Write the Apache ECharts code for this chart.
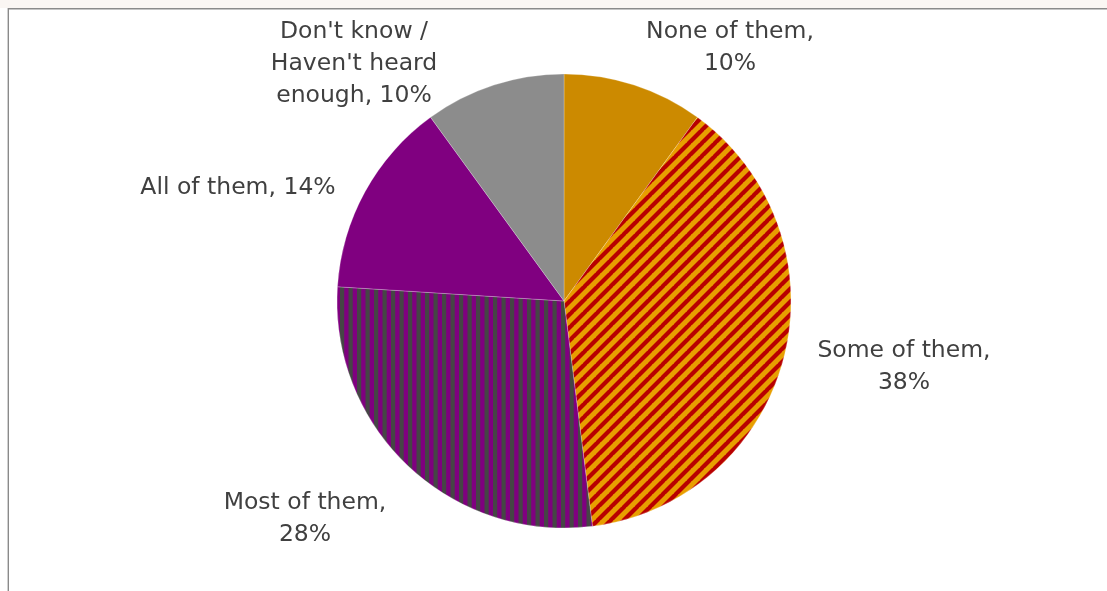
<!DOCTYPE html>
<html>
<head>
<meta charset="utf-8">
<style>
  html, body { margin: 0; padding: 0; background: #ffffff; }
  #chart { width: 1107px; height: 591px; }
</style>
<script src="https://cdn.jsdelivr.net/npm/echarts@6/dist/echarts.min.js"></script>
</head>
<body>
<div id="chart"></div>
<script>
// Survey answers, in clockwise order from twelve o'clock
const categories = ['None of them', 'Some of them', 'Most of them', 'All of them', "Don't know / Haven't heard enough"];
const shares = [10, 38, 28, 14, 10];
// How each label text is broken into lines
const labelLines = [
  ['None of them,', '{v}%'],
  ['Some of them,', '{v}%'],
  ['Most of them,', '{v}%'],
  ['All of them, {v}%'],
  ["Don't know /", "Haven't heard", 'enough, {v}%']
];
// Where each label block is centred (px)
const labelSpots = [[730, 48], [904, 367], [305, 519], [238, 188], [354, 64]];

// Diagonal red-on-gold hatch
function diagonalHatch() {
  const p = 13;
  const c = document.createElement('canvas');
  c.width = p; c.height = p;
  const g = c.getContext('2d');
  g.fillStyle = '#E89E00';
  g.fillRect(0, 0, p, p);
  g.strokeStyle = '#B80000';
  g.lineWidth = 4.2;
  for (let k = -1; k <= 1; k++) {
    g.beginPath();
    g.moveTo(k * p - 1, p + 1);
    g.lineTo(k * p + p + 1, -1);
    g.stroke();
  }
  return c;
}

// Vertical grey-on-purple stripes
function verticalStripes() {
  const c = document.createElement('canvas');
  c.width = 17; c.height = 4;
  const g = c.getContext('2d');
  g.fillStyle = '#7F007F';
  g.fillRect(0, 0, 17, 4);
  g.fillStyle = '#454545';
  g.fillRect(0, 0, 4.2, 4);
  g.fillRect(8.5, 0, 4.2, 4);
  return c;
}

const sliceColors = [
  '#CC8A00',
  { image: diagonalHatch(), repeat: 'repeat' },
  { image: verticalStripes(), repeat: 'repeat' },
  '#800080',
  '#8C8C8C'
];

const chart = echarts.init(document.getElementById('chart'), null, { renderer: 'canvas' });

chart.setOption({
  animation: false,
  backgroundColor: '#ffffff',
  graphic: [
    { type: 'rect', shape: { x: 0, y: 0, width: 1107, height: 8 }, style: { fill: '#FAF6F3' }, silent: true },
    { type: 'rect', shape: { x: 8, y: 8, width: 1099, height: 1.4 }, style: { fill: '#8A8A8A' }, silent: true },
    { type: 'rect', shape: { x: 7.6, y: 8, width: 1.4, height: 583 }, style: { fill: '#8A8A8A' }, silent: true }
  ],
  series: [{
    type: 'pie',
    center: [564, 301],
    radius: 227,
    startAngle: 90,
    clockwise: true,
    avoidLabelOverlap: false,
    itemStyle: { borderColor: 'rgba(255,255,255,0.4)', borderWidth: 0.6 },
    emphasis: { disabled: true },
    labelLine: { show: false },
    label: {
      show: true,
      position: 'outside',
      color: '#404040',
      fontFamily: '"DejaVu Sans", sans-serif',
      fontSize: 23.5,
      lineHeight: 32,
      align: 'center',
      formatter: p => labelLines[p.dataIndex].map(s => s.replace('{v}', p.value)).join('\n')
    },
    labelLayout: p => ({
      x: labelSpots[p.dataIndex][0],
      y: labelSpots[p.dataIndex][1],
      align: 'center',
      verticalAlign: 'middle'
    }),
    data: categories.map((name, i) => ({
      name,
      value: shares[i],
      itemStyle: { color: sliceColors[i] }
    }))
  }]
});
</script>
</body>
</html>
